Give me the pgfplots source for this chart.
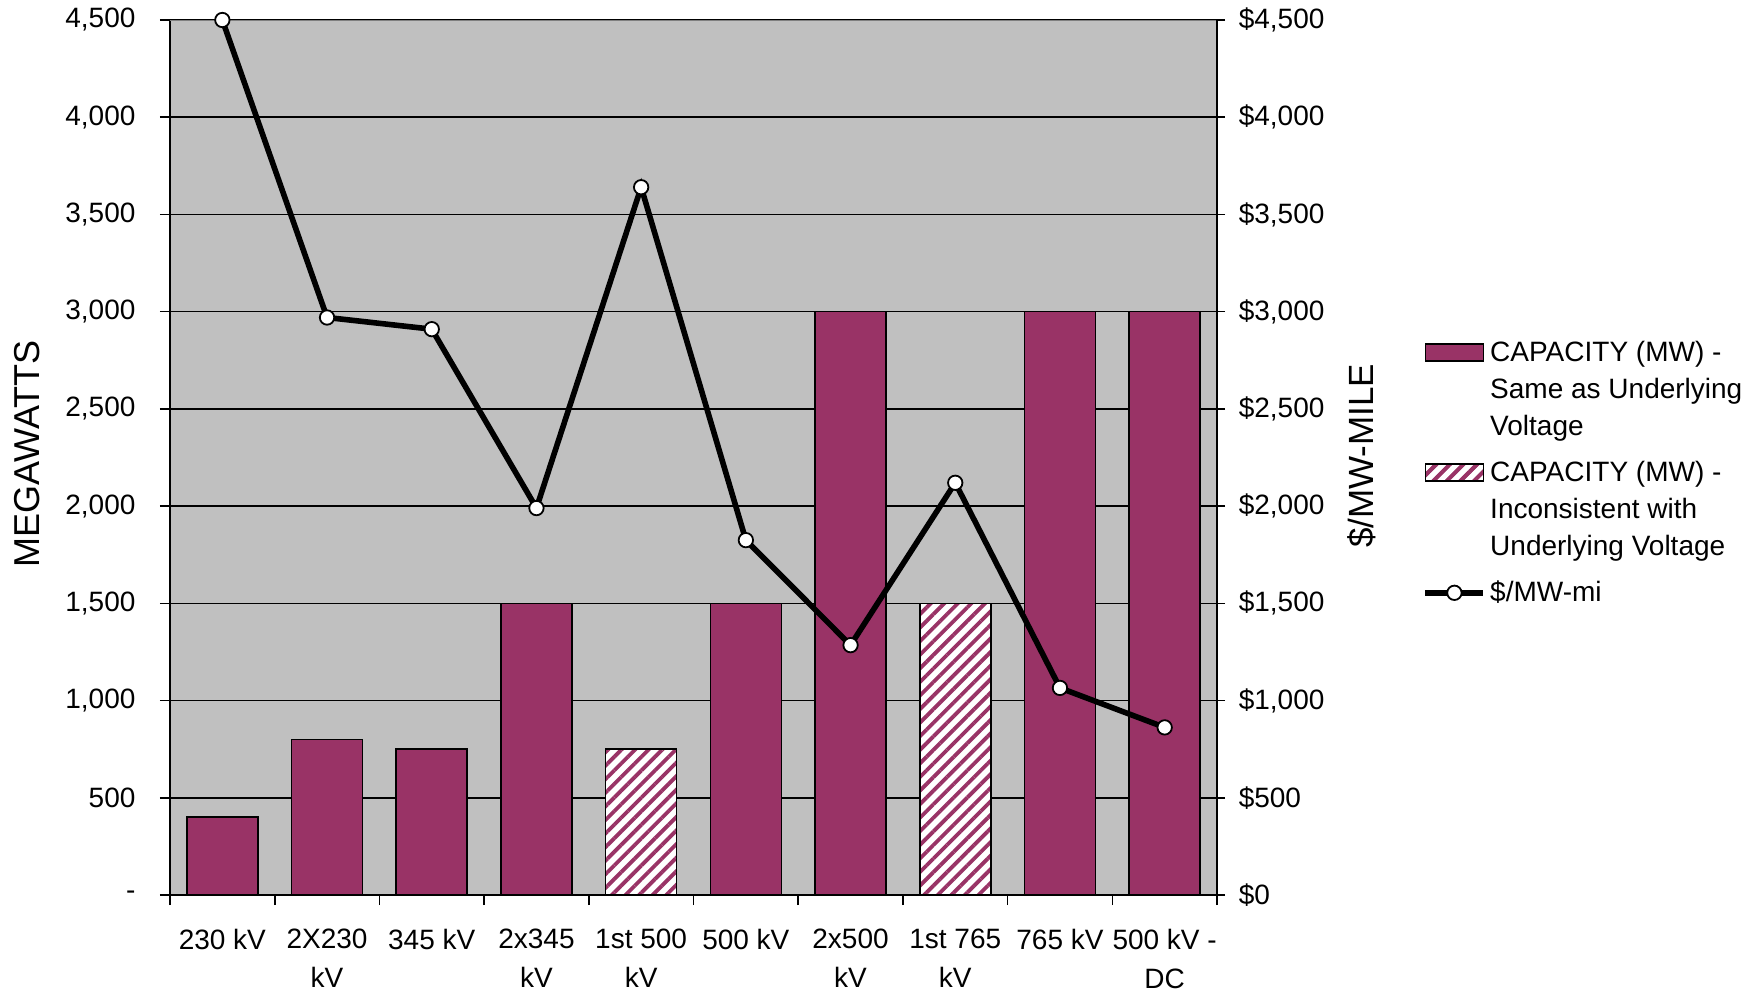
\documentclass[border=0pt]{standalone}
\usepackage{fontspec}
\setmainfont{Liberation Sans}
\usepackage{pgfplots}
\pgfplotsset{compat=1.18}
\usetikzlibrary{patterns.meta}
\definecolor{maroon}{HTML}{993366}
\definecolor{bggray}{HTML}{C0C0C0}
\definecolor{topgray}{HTML}{808080}
\newcommand\tf{\fontsize{14}{19}\selectfont}
\begin{document}
\begin{tikzpicture}
\pgfplotsset{
  every axis/.append style={
    scale only axis, width=523.5pt, height=437.5pt,
    xmin=-0.5, xmax=9.5, ymin=0, ymax=4500,
    tick label style={font=\tf},
    ytick={0,500,...,4500},
    axis line style={-, black, line width=1pt},
    tick style={black, line width=0.8pt},
    tick align=outside,
  }
}
\begin{axis}[
  axis background/.style={fill=bggray},
  axis x line*=bottom, axis y line*=left,
  yticklabels={-,500,{1,000},{1,500},{2,000},{2,500},{3,000},{3,500},{4,000},{4,500}},
  ymajorgrids, major grid style={black, line width=0.8pt},
  xtick={0,...,9},
  xticklabels={230 kV,2X230\\kV,345 kV,2x345\\kV,1st 500\\kV,500 kV,2x500\\kV,1st 765\\kV,765 kV,500 kV -\\DC},
  xticklabel style={align=center, inner sep=0pt, yshift=-12pt, overlay, font=\fontsize{14}{19.5}\selectfont},
  yticklabel style={inner sep=0pt, xshift=-12.07pt},
  minor xtick={-0.5,0.5,...,9.5},
  major x tick style={draw=none},
  minor x tick style={black, line width=0.8pt},
  major tick length=5pt, minor tick length=5pt,
  every axis y label/.style={at={(axis description cs:-0.1361,0.504)}, rotate=90, anchor=center, font=\fontsize{18}{20}\selectfont},
  ylabel={MEGAWATTS},
  legend style={at={(axis description cs:1.196,0.638)}, anchor=north west, draw=none, fill=none, inner sep=0pt, row sep=7.3pt, font=\fontsize{14}{18.5}\selectfont, cells={anchor=west, align=left}},
]
\addplot[ybar, bar shift=0pt, bar width=35.5pt, fill=maroon, draw=black, line width=0.8pt,
  legend image code/.code={\draw[fill=maroon, draw=black, line width=0.8pt] (0pt,14.25pt) rectangle (29pt,22.75pt);}]
  coordinates {(0,400) (1,800) (2,750) (3,1500) (5,1500) (6,3000) (8,3000) (9,3000)};
\addlegendentry{CAPACITY (MW) -\\Same as Underlying\\Voltage}
\addplot[ybar, bar shift=0pt, bar width=35.5pt, fill=white, draw=black, line width=0.8pt,
  postaction={pattern={Lines[angle=45,distance=4.8pt,line width=1.9pt]}, pattern color=maroon},
  legend image code/.code={\draw[fill=white, draw=black, line width=0.8pt, postaction={pattern={Lines[angle=45,distance=4.8pt,line width=1.9pt]}, pattern color=maroon}] (0pt,14.25pt) rectangle (29pt,22.75pt);}]
  coordinates {(4,750) (7,1500)};
\addlegendentry{CAPACITY (MW) -\\Inconsistent with\\Underlying Voltage}
\addplot[black, line width=2.8pt, mark=*, mark size=3.6pt, mark options={fill=white, draw=black, line width=0.9pt},
  legend image code/.code={\draw[black, line width=2.8pt] (0pt,0pt) -- (29pt,0pt); \draw[black, fill=white, line width=0.9pt] (14.5pt,0pt) circle (3.6pt);}]
  coordinates {(0,4500) (1,2970) (2,2910) (3,1990) (4,3640) (5,1825) (6,1285) (7,2120) (8,1065) (9,862)};
\addlegendentry{\$/MW-mi}
\draw[topgray, line width=1pt] (axis cs:-0.5,4500) -- (axis cs:9.5,4500);
\end{axis}
\begin{axis}[
  axis y line*=right, axis x line=none,
  yticklabels={\$0,\$500,{\$1,000},{\$1,500},{\$2,000},{\$2,500},{\$3,000},{\$3,500},{\$4,000},{\$4,500}},
  major tick length=4pt,
  yticklabel style={inner sep=0pt, xshift=6.67pt},
  every axis y label/.style={at={(axis description cs:1.138,0.502)}, rotate=90, anchor=center, font=\fontsize{17.5}{20}\selectfont},
  ylabel={\$/MW-MILE},
]
\end{axis}
\path (-85pt,-48pt) rectangle (794.5pt,447.5pt);
\end{tikzpicture}
\end{document}
